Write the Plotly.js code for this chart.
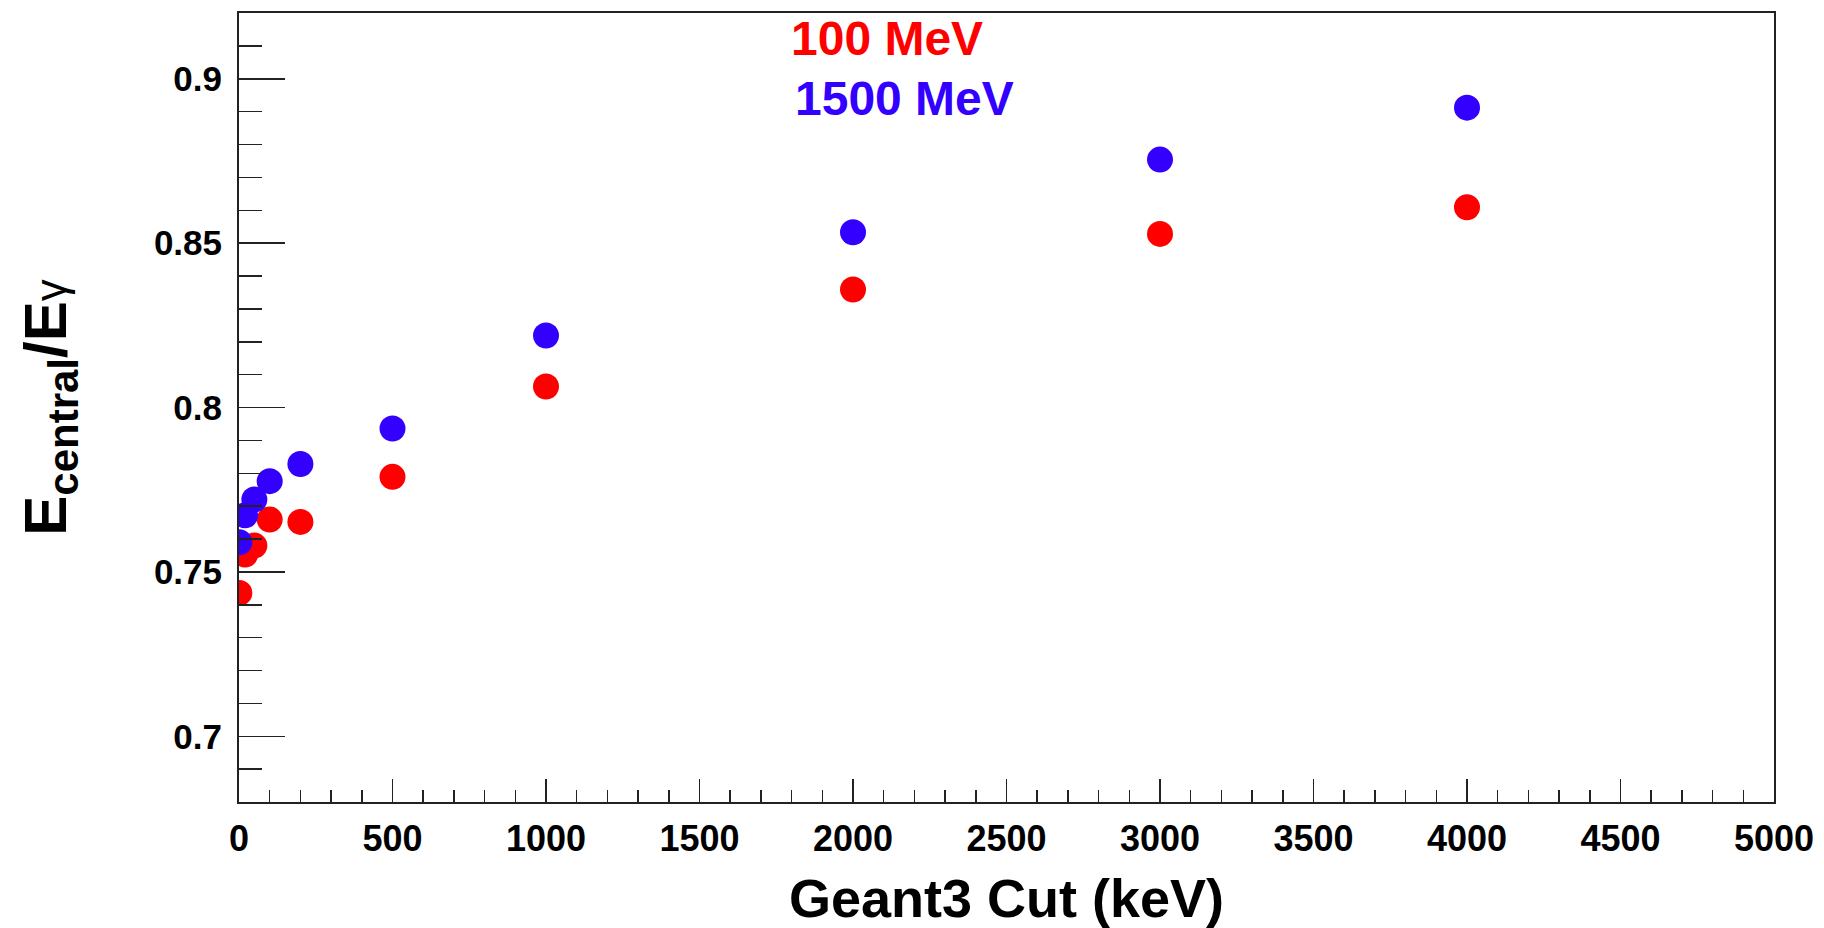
<!DOCTYPE html>
<html>
<head>
<meta charset="utf-8">
<script src="https://cdn.plot.ly/plotly-3.0.1.min.js"></script>
<style>
  html, body { margin: 0; padding: 0; background: #ffffff; }
  #chart { width: 1824px; height: 928px; }
</style>
</head>
<body>
<div id="chart"></div>
<script>
// Geant3 cut values (keV)
const cutValues = [1, 20, 50, 100, 200, 500, 1000, 2000, 3000, 4000];
// E_central / E_gamma for 100 MeV photons
const ratio100MeV = [0.7436, 0.7553, 0.7580, 0.7659, 0.7652, 0.7789, 0.8064, 0.8359, 0.8528, 0.8609];
// E_central / E_gamma for 1500 MeV photons
const ratio1500MeV = [0.7590, 0.7672, 0.7720, 0.7776, 0.7828, 0.7936, 0.8219, 0.8533, 0.8754, 0.8912];

const seriesNames = ['100 MeV', '1500 MeV'];
const seriesColors = ['#ff0000', '#3300ff'];

const xTickVals = [0, 500, 1000, 1500, 2000, 2500, 3000, 3500, 4000, 4500, 5000];
const yTickVals = [0.7, 0.75, 0.8, 0.85, 0.9];
const yTickText = ['0.7', '0.75', '0.8', '0.85', '0.9'];

const fontFamily = '"Liberation Sans", Arial, Helvetica, sans-serif';

const traces = [
  {
    x: cutValues, y: ratio100MeV, name: seriesNames[0],
    type: 'scatter', mode: 'markers',
    marker: { color: seriesColors[0], size: 26, line: { width: 0 } }
  },
  {
    x: cutValues, y: ratio1500MeV, name: seriesNames[1],
    type: 'scatter', mode: 'markers',
    marker: { color: seriesColors[1], size: 26, line: { width: 0 } }
  }
];

const layout = {
  width: 1824, height: 928,
  paper_bgcolor: '#ffffff', plot_bgcolor: '#ffffff',
  showlegend: false,
  margin: { l: 239, r: 50, t: 13, b: 126, pad: 0 },
  font: { family: fontFamily, color: '#000000' },
  xaxis: {
    range: [0, 5000],
    tickvals: xTickVals,
    ticks: 'inside', ticklen: 23, tickwidth: 1.5, tickcolor: '#222222',
    minor: { dtick: 100, ticks: 'inside', ticklen: 12, tickwidth: 1.5, tickcolor: '#222222', showgrid: false },
    showline: true, linecolor: '#222222', linewidth: 2, mirror: true,
    showgrid: false, zeroline: false,
    tickfont: { family: fontFamily, size: 36, weight: 'bold', color: '#000000' },
    ticklabelstandoff: 4,
    title: {
      text: 'Geant3 Cut (keV)',
      font: { family: fontFamily, size: 54, weight: 'bold', color: '#000000' },
      standoff: 30
    }
  },
  yaxis: {
    range: [0.68, 0.92],
    tickvals: yTickVals, ticktext: yTickText,
    ticks: 'inside', ticklen: 46, tickwidth: 1.5, tickcolor: '#222222',
    minor: { dtick: 0.01, ticks: 'inside', ticklen: 23, tickwidth: 1.5, tickcolor: '#222222', showgrid: false },
    showline: true, linecolor: '#222222', linewidth: 2, mirror: true,
    showgrid: false, zeroline: false,
    tickfont: { family: fontFamily, size: 35, weight: 'bold', color: '#000000' },
    ticklabelstandoff: 8,
    title: {
      text: 'E<sub>central</sub>/E<span style="font-size:44px;font-weight:normal">γ</span>',
      font: { family: fontFamily, size: 60, weight: 'bold', color: '#000000' },
      standoff: 68
    }
  },
  annotations: [
    {
      xref: 'paper', yref: 'paper', x: 0.358, y: 0.968,
      xanchor: 'left', yanchor: 'middle', showarrow: false,
      text: seriesNames[0],
      font: { family: fontFamily, size: 48, weight: 'bold', color: seriesColors[0] }
    },
    {
      xref: 'paper', yref: 'paper', x: 0.361, y: 0.892,
      xanchor: 'left', yanchor: 'middle', showarrow: false,
      text: seriesNames[1],
      font: { family: fontFamily, size: 48, weight: 'bold', color: seriesColors[1] }
    }
  ]
};

Plotly.newPlot('chart', traces, layout, { displayModeBar: false, staticPlot: true });
</script>
</body>
</html>
